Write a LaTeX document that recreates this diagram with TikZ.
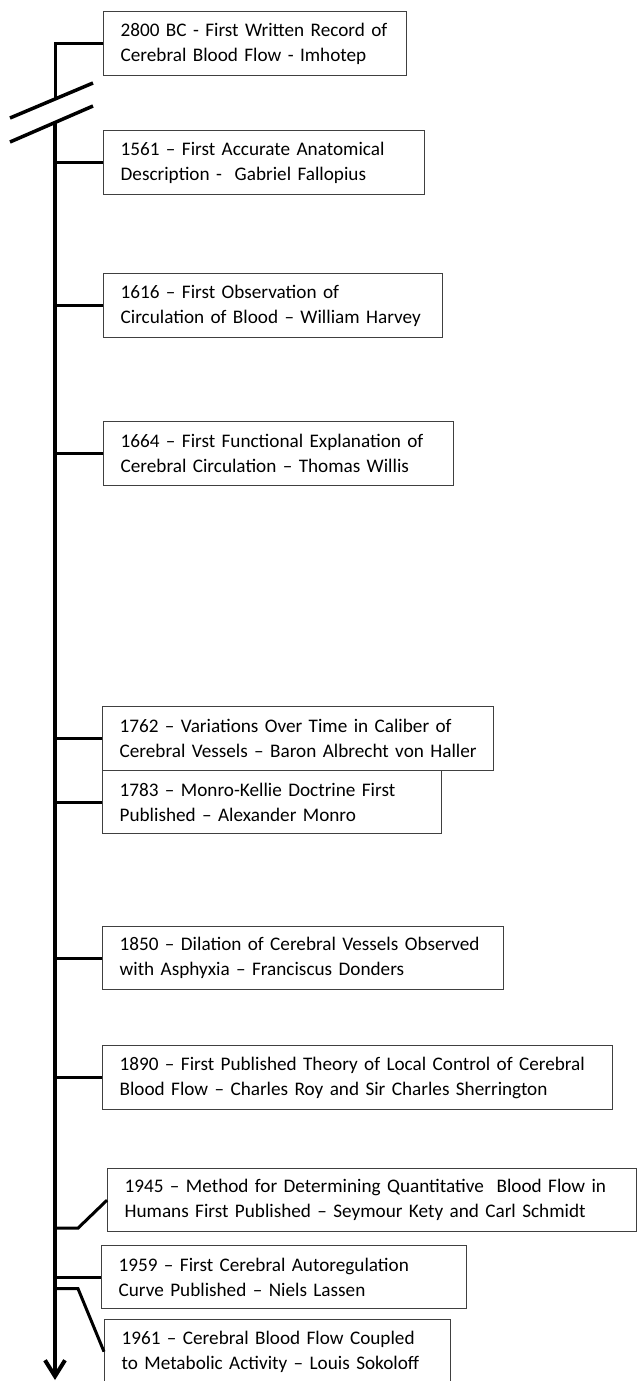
\documentclass[tikz,border=0pt]{standalone}
\usepackage{fontspec}
\setmainfont{Carlito}[WordSpace=0.95]
\usetikzlibrary{arrows.meta}
\tikzset{
  evbox/.style={draw=black!75, line width=1.3pt, anchor=north west, align=left,
    inner xsep=17pt, inner ysep=0pt, minimum height=64pt,
    font=\fontsize{19.2pt}{25pt}\selectfont},
  branch/.style={line width=3pt, line join=miter},
  axisline/.style={line width=4pt}
}
\begin{document}
\begin{tikzpicture}[>={Straight Barb[length=16pt,width=20pt]}, x=1pt, y=-1pt]
\useasboundingbox (0,0) rectangle (638,1381);
\coordinate (ax) at (55,0);
\coordinate (brk1) at (55,99);
\coordinate (brk2) at (55,123);
\coordinate (end) at (55,1380);

\node[evbox, text width=269pt] (b2800) at (103,11) {2800 BC - First Written Record of\\Cerebral Blood Flow - Imhotep};
\node[evbox, text width=287pt] (b1561) at (103,130) {1561 – First Accurate Anatomical\\Description -\ \ Gabriel Fallopius};
\node[evbox, text width=305pt] (b1616) at (103,273) {1616 – First Observation of\\Circulation of Blood – William Harvey};
\node[evbox, text width=316pt] (b1664) at (103,421) {1664 – First Functional Explanation of\\Cerebral Circulation – Thomas Willis};
\node[evbox, text width=357pt] (b1762) at (102,706) {1762 – Variations Over Time in Caliber of\\Cerebral Vessels – Baron Albrecht von Haller};
\node[evbox, text width=305pt, minimum height=63pt] (b1783) at (102,770) {1783 – Monro-Kellie Doctrine First\\Published – Alexander Monro};
\node[evbox, text width=367pt, minimum height=63pt] (b1850) at (102,926) {1850 – Dilation of Cerebral Vessels Observed\\with Asphyxia – Franciscus Donders};
\node[evbox, text width=476pt] (b1890) at (102,1045) {1890 – First Published Theory of Local Control of Cerebral\\Blood Flow – Charles Roy and Sir Charles Sherrington};
\node[evbox, text width=495pt, minimum height=63pt] (b1945) at (107,1168) {1945 – Method for Determining Quantitative\ \ Blood Flow in\\Humans First Published – Seymour Kety and Carl Schmidt};
\node[evbox, text width=331pt, minimum height=63pt] (b1959) at (101,1245) {1959 – First Cerebral Autoregulation\\Curve Published – Niels Lassen};
\node[evbox, text width=312pt] (b1961) at (104,1319) {1961 – Cerebral Blood Flow Coupled\\to Metabolic Activity – Louis Sokoloff};

\draw[branch] (b2800.west) -- (b2800.west -| ax) -- (brk1);
\draw[axisline, ->] (brk2) -- (end);
\draw[line width=3.5pt] (10,118) -- (93,83);
\draw[line width=3.5pt] (10,142) -- (93,106);

\foreach \b in {b1561,b1616,b1664,b1762,b1783,b1850,b1890,b1959}
  \draw[branch] (\b.west) -- (\b.west -| ax);
\draw[branch] (b1945.west) -- ++(-29,28) -- ++(-23,0);
\draw[branch] (b1961.west) -- ++(-26,-63) -- ++(-23,0);
\end{tikzpicture}
\end{document}
